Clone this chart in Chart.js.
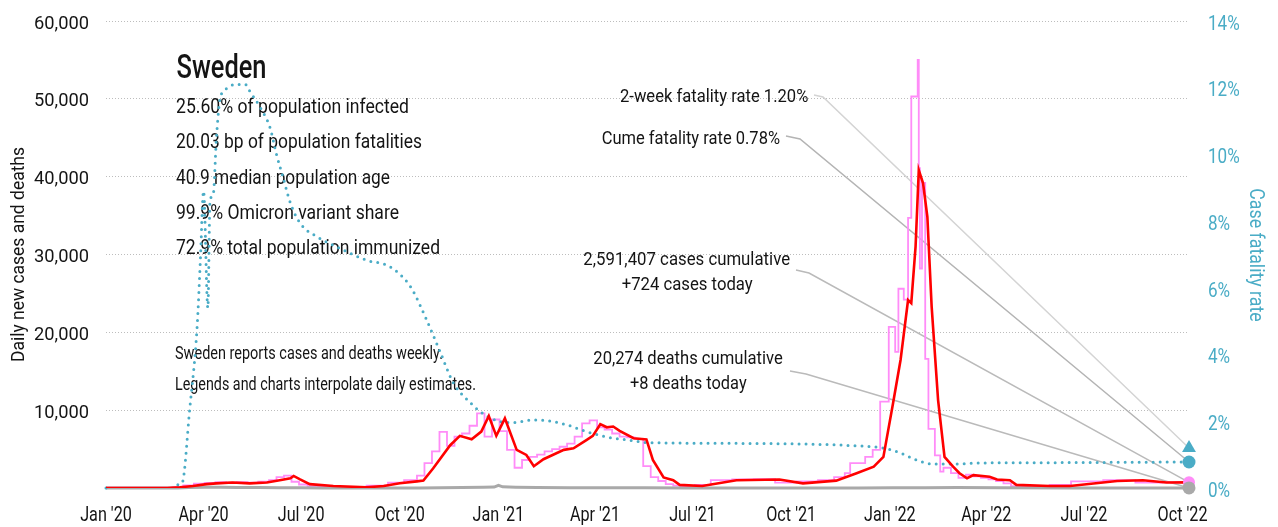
<!DOCTYPE html>
<html>
<head>
<meta charset="utf-8">
<script src="https://cdn.jsdelivr.net/npm/chart.js@4.4.1/dist/chart.umd.min.js"></script>
<style>
  html, body { margin: 0; padding: 0; background: #fff; }
  #wrap { width: 1278px; height: 527px; }
</style>
</head>
<body>
<div id="wrap"><canvas id="chart" width="1278" height="527"></canvas></div>
<script>
const FONT = 'Roboto, "Liberation Sans", sans-serif';
const INK = '#141414';
const BLUE = '#4aacc6';
const PINK = '#ff8cf8';

// x positions are days since 2020-01-01
const lastDay = 1010;
const tickDays = [0, 91, 182, 274, 366, 456, 547, 639, 731, 821, 912, 1004];
const tickLabels = ["Jan '20", "Apr '20", "Jul '20", "Oct '20", "Jan '21", "Apr '21",
                    "Jul '21", "Oct '21", "Jan '22", "Apr '22", "Jul '22", "Oct '22"];

// 7-day average of new cases
const avgDays = [
  0, 57, 69, 81, 94, 103, 118, 134, 150, 162,
  172, 175, 181, 190, 212, 243, 259, 274, 290, 296,
  305, 321, 330, 341, 350, 357, 364, 372, 383, 392,
  399, 408, 427, 436, 448, 454, 461, 467, 473, 479,
  492, 504, 510, 520, 529, 535, 556, 588, 628, 650,
  681, 700, 716, 725, 734, 741, 748, 751, 755, 758,
  762, 766, 770, 776, 782, 790, 796, 803, 809, 824,
  831, 843, 849, 880, 899, 943, 967, 989, 1010
];
const avgCases = [
  0, 0, 100, 250, 500, 600, 700, 600, 700, 1000,
  1250, 1550, 1100, 500, 250, 100, 250, 600, 850, 950,
  2500, 5500, 6700, 6250, 7250, 9250, 6700, 8950, 4900, 4250,
  2800, 3700, 4900, 5100, 6150, 6700, 8200, 7800, 7900, 7350,
  6400, 6250, 3600, 1350, 1000, 400, 250, 1000, 1100, 600,
  950, 1900, 2750, 4000, 10900, 16450, 24150, 23750, 31000, 40850,
  39150, 34850, 23300, 11300, 4000, 2750, 1900, 1250, 1650, 1450,
  1100, 1000, 400, 250, 250, 900, 1000, 700, 724
];

// daily new cases (weekly reports spread over the days)
const dailyDays = [
  0, 62, 72, 82, 92, 102, 112, 122, 132, 142,
  152, 159, 166, 173, 180, 188, 198, 213, 243, 263,
  278, 290, 297, 304, 311, 318, 325, 332, 339, 346,
  353, 360, 367, 374, 381, 388, 395, 402, 409, 416,
  423, 430, 437, 444, 451, 458, 465, 472, 479, 486,
  493, 501, 508, 515, 522, 529, 536, 549, 564, 584,
  604, 624, 644, 664, 679, 689, 694, 708, 715, 722,
  730, 736, 739, 744, 748, 751, 757, 758, 759, 761,
  764, 767, 773, 778, 781, 788, 795, 802, 809, 816,
  823, 830, 837, 844, 851, 880, 900, 930, 960, 985,
  1005, 1010
];
const dailyCases = [
  0, 50, 150, 350, 550, 650, 750, 700, 750, 700,
  800, 1000, 1400, 1600, 800, 450, 250, 200, 150, 300,
  700, 1000, 1600, 3200, 4700, 7200, 5400, 6600, 7000, 8000,
  9600, 6600, 8800, 7300, 4900, 2600, 3600, 4000, 4300, 4700,
  5000, 5300, 5700, 6600, 8300, 8700, 7800, 7500, 7000, 6600,
  6500, 6300, 2800, 1400, 900, 500, 300, 250, 400, 1000,
  1100, 1150, 700, 850, 1000, 1400, 1900, 3200, 4000, 4900,
  11100, 20700, 17500, 25600, 24200, 34700, 50300, 55000, 41100, 28200,
  39200, 16600, 7600, 4200, 2100, 2600, 1900, 1300, 1700, 1500,
  1300, 1100, 900, 600, 250, 250, 400, 850, 1000, 700,
  724, 724
];

// daily deaths
const deathDays = [0, 67, 77, 92, 107, 122, 142, 162, 182, 202, 252, 292, 312, 332, 352, 362,
                   366, 370, 382, 402, 432, 462, 502, 542, 602, 702, 734, 764, 794, 834, 904, 1010];
const deaths = [0, 10, 60, 90, 100, 80, 60, 40, 20, 10, 3, 10, 40, 70, 90, 120,
                350, 150, 100, 60, 30, 20, 20, 5, 3, 5, 20, 40, 50, 20, 10, 8];

// case fatality rate, percent
const cfrDays = [
  0, 3, 30, 67, 71, 78, 85, 88, 91, 95,
  97, 100, 103, 106, 110, 114, 120, 130, 134, 144,
  153, 159, 165, 172, 181, 197, 215, 243, 265, 284,
  299, 312, 324, 340, 349, 364, 380, 398, 411, 430,
  448, 467, 486, 507, 582, 713, 725, 741, 756, 771,
  787, 818, 880, 1010
];
const cfrPct = [
  0, 0, null, 0.1, 0.15, 2.34, 4.84, 6.83, 8.9, 5.4,
  8.6, 8.8, 10.5, 11.6, 11.9, 12.0, 12.1, 12.1, 11.9, 11.4,
  10.8, 10.0, 9.33, 8.54, 7.94, 7.53, 7.23, 6.83, 6.63, 6.03,
  5.04, 4.05, 3.15, 2.55, 2.29, 2.02, 1.96, 2.04, 2.02, 1.89,
  1.69, 1.53, 1.44, 1.36, 1.34, 1.24, 1.20, 1.05, 0.84, 0.72,
  0.72, 0.75, 0.76, 0.78
];

const twoWeekCfr = 1.20;
const cumeCfr = 0.78;
const casesToday = 724;
const deathsToday = 8;

const statLines = [
  '25.60% of population infected',
  '20.03 bp of population fatalities',
  '40.9 median population age',
  '99.9% Omicron variant share',
  '72.9% total population immunized'
];
const statWidths = [233, 246, 214, 223, 264];
const noteLines = [
  'Sweden reports cases and deaths weekly.',
  'Legends and charts interpolate daily estimates.'
];
const noteWidths = [268, 301];

const pts = (xs, ys) => xs.map((x, i) => ({ x, y: ys[i] }));

// horizontal squeeze so that text reaches a given width
function squeeze(ctx, text, size, width, weight) {
  ctx.font = `${weight || 400} ${size}px ${FONT}`;
  return width / ctx.measureText(text).width;
}

// draws text with its cap-height centred on y, squeezed by sx, optionally rotated
function label(ctx, text, x, y, size, sx, align, color, angle, weight) {
  ctx.save();
  ctx.font = `${weight || 400} ${size}px ${FONT}`;
  ctx.fillStyle = color || INK;
  ctx.textAlign = align || 'left';
  ctx.textBaseline = 'alphabetic';
  ctx.translate(x, y);
  if (angle) ctx.rotate(angle);
  ctx.scale(sx, 1);
  ctx.fillText(text, 0, size * 0.355);
  ctx.restore();
}

const annotate = {
  id: 'annotate',
  beforeDatasetsDraw(chart) {
    const { ctx, scales } = chart;
    const xEnd = scales.x.getPixelForValue(lastDay);
    ctx.save();

    // leader lines to the end markers
    const leaders = [
      { a: [814, 95],  b: [823, 97],  y: scales.y2.getPixelForValue(twoWeekCfr), c: '#d4d4d4' },
      { a: [786, 136], b: [800, 139], y: scales.y2.getPixelForValue(cumeCfr),   c: '#b4b4b4' },
      { a: [796, 270], b: [809, 273], y: scales.y.getPixelForValue(casesToday),  c: '#bababa' },
      { a: [790, 371], b: [806, 374], y: scales.y.getPixelForValue(deathsToday), c: '#bababa' }
    ];
    ctx.lineWidth = 1.5;
    leaders.forEach(l => {
      ctx.strokeStyle = l.c;
      ctx.beginPath();
      ctx.moveTo(l.a[0], l.a[1]);
      ctx.lineTo(l.b[0], l.b[1]);
      ctx.lineTo(xEnd, l.y);
      ctx.stroke();
    });
    ctx.restore();

    // tick labels
    const xs = squeeze(ctx, "Jan '20", 19.5, 51.7);
    tickDays.forEach((d, i) =>
      label(ctx, tickLabels[i], scales.x.getPixelForValue(d), 514, 19.5, xs, 'center'));
    const ls = squeeze(ctx, '60,000', 18.7, 55);
    scales.y.ticks.forEach(t => {
      if (t.value === 0) return;
      label(ctx, t.value.toLocaleString('en-US'), 89, scales.y.getPixelForValue(t.value) + 1, 18.7, ls, 'right');
    });
    const rs = squeeze(ctx, '14%', 20.5, 31.7);
    scales.y2.ticks.forEach(t =>
      label(ctx, t.value + '%', 1208, scales.y2.getPixelForValue(t.value) + 1.5, 20.5, rs, 'left', BLUE));

    // axis titles
    const lt = 'Daily new cases and deaths';
    label(ctx, lt, 17, 254.5, 18.7, squeeze(ctx, lt, 18.7, 215), 'center', INK, -Math.PI / 2);
    const rt = 'Case fatality rate';
    label(ctx, rt, 1257.5, 255, 21, squeeze(ctx, rt, 21, 133.4), 'center', BLUE, Math.PI / 2);

    // country block
    label(ctx, 'Sweden', 176.5, 66.7, 32.5, squeeze(ctx, 'Sweden', 32.5, 90, 500), 'left', INK, 0, 500);
    statLines.forEach((t, i) =>
      label(ctx, t, 176, 106 + i * 35.3, 20, squeeze(ctx, t, 20, statWidths[i]), 'left'));
    noteLines.forEach((t, i) =>
      label(ctx, t, 175, 352.5 + i * 30.8, 18, squeeze(ctx, t, 18, noteWidths[i]), 'left'));

    // callouts
    const callouts = [
      ['2-week fatality rate 1.20%', 808.3, 95, 188.3, 'right'],
      ['Cume fatality rate 0.78%', 780, 137, 178.3, 'right'],
      ['2,591,407 cases cumulative', 686.7, 258.8, 206.7, 'center'],
      ['+724 cases today', 687.2, 283, 131, 'center'],
      ['20,274 deaths cumulative', 688, 357.5, 189.4, 'center'],
      ['+8 deaths today', 688.3, 382.7, 116.7, 'center']
    ];
    callouts.forEach(([t, x, y, w, a]) => label(ctx, t, x, y, 18.7, squeeze(ctx, t, 18.7, w), a));
  }
};

const endMarker = (value, axis, style, color, r) => ({
  type: 'line',
  data: [{ x: lastDay, y: value }],
  yAxisID: axis,
  showLine: false,
  pointStyle: style,
  pointRadius: r,
  pointBackgroundColor: color,
  pointBorderColor: color,
  pointBorderWidth: 0,
  clip: false,
  order: 0
});

new Chart(document.getElementById('chart'), {
  type: 'line',
  data: {
    datasets: [
      {
        data: pts(avgDays, avgCases),
        borderColor: '#ff0000',
        borderWidth: 2.6,
        pointRadius: 0,
        yAxisID: 'y',
        order: 1
      },
      {
        data: pts(cfrDays, cfrPct),
        borderColor: BLUE,
        borderWidth: 3,
        borderDash: [0, 7],
        borderCapStyle: 'round',
        cubicInterpolationMode: 'monotone',
        spanGaps: false,
        pointRadius: 0,
        yAxisID: 'y2',
        clip: 4,
        order: 2
      },
      {
        data: pts(deathDays, deaths),
        borderColor: '#a9a9a9',
        borderWidth: 3,
        pointRadius: 0,
        yAxisID: 'y',
        clip: 4,
        order: 3
      },
      {
        data: pts(dailyDays, dailyCases),
        borderColor: PINK,
        borderWidth: 1.8,
        stepped: 'after',
        pointRadius: 0,
        yAxisID: 'y',
        order: 4
      },
      endMarker(deathsToday, 'y', 'circle', '#a9a9a9', 6.5),
      endMarker(casesToday, 'y', 'circle', PINK, 6),
      endMarker(cumeCfr, 'y2', 'circle', BLUE, 6.5),
      endMarker(twoWeekCfr, 'y2', 'triangle', BLUE, 8)
    ]
  },
  options: {
    responsive: false,
    animation: false,
    events: [],
    layout: { padding: { top: 21, left: 0, right: 0, bottom: 0 } },
    plugins: { legend: { display: false }, tooltip: { enabled: false } },
    scales: {
      x: {
        type: 'linear',
        min: 0,
        max: lastDay,
        afterBuildTicks: axis => { axis.ticks = tickDays.map(v => ({ value: v })); },
        afterFit: axis => { axis.height = 39; },
        grid: { display: false, drawTicks: false },
        border: { display: false },
        ticks: { display: false }
      },
      y: {
        position: 'left',
        min: 0,
        max: 60000,
        afterFit: axis => { axis.width = 106; },
        grid: {
          drawTicks: false,
          lineWidth: 1,
          color: c => (c.tick && c.tick.value === 0 ? 'rgba(0,0,0,0)' : '#bdbdbd')
        },
        border: { display: false, dash: [1, 2] },
        ticks: { stepSize: 10000, display: false }
      },
      y2: {
        position: 'right',
        min: 0,
        max: 14,
        afterFit: axis => { axis.width = 89; },
        grid: { display: false, drawTicks: false },
        border: { display: false },
        ticks: { stepSize: 2, display: false }
      }
    }
  },
  plugins: [annotate]
});
</script>
</body>
</html>
